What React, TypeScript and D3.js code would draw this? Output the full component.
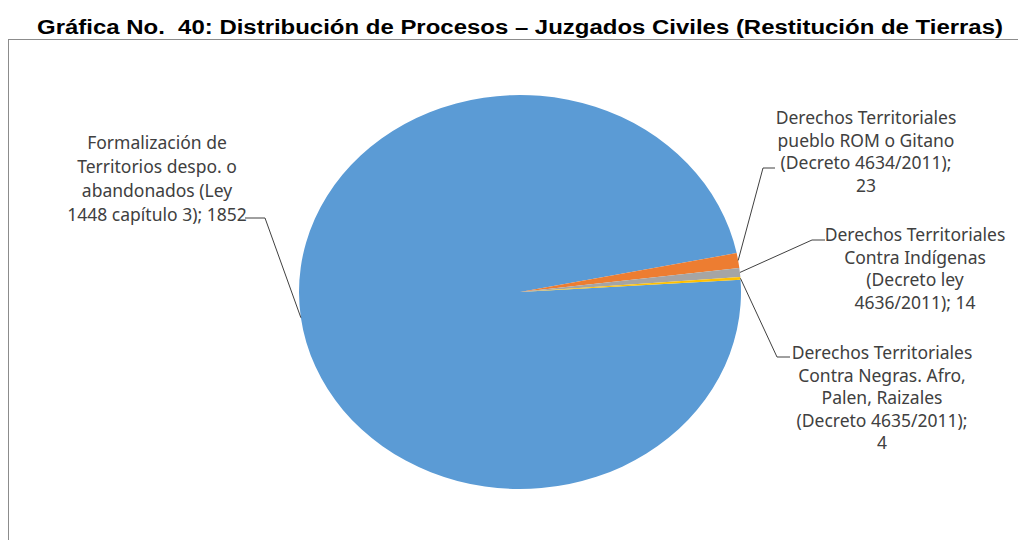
import React from "react";
import * as d3 from "d3";

const categories = [
  "Formalización de Territorios despo. o abandonados (Ley 1448 capítulo 3)",
  "Derechos Territoriales pueblo ROM o Gitano (Decreto 4634/2011)",
  "Derechos Territoriales Contra Indígenas (Decreto ley 4636/2011)",
  "Derechos Territoriales Contra Negras. Afro, Palen, Raizales (Decreto 4635/2011)",
];
const values = [1852, 23, 14, 4];
const colors = ["#5B9BD5", "#ED7D31", "#A5A5A5", "#FFC000"];
const labelLines = [
  ["Formalización de", "Territorios despo. o", "abandonados (Ley", "1448 capítulo 3); 1852"],
  ["Derechos Territoriales", "pueblo ROM o Gitano", "(Decreto 4634/2011);", "23"],
  ["Derechos Territoriales", "Contra Indígenas", "(Decreto ley", "4636/2011); 14"],
  ["Derechos Territoriales", "Contra Negras. Afro,", "Palen, Raizales", "(Decreto 4635/2011);", "4"],
];
const title = "Gráfica No.  40: Distribución de Procesos – Juzgados Civiles (Restitución de Tierras)";

// layout
const W = 1018, H = 540;
const cx = 520, cy = 292, rx = 221, ry = 197;
const startDeg = 86.4;
const labelLayout = [
  { x: 157, y: 149, lh: 24, elbow: [[245, 218], [265, 218]] },
  { x: 866, y: 124, lh: 22.7, elbow: [[775, 168], [763, 168]] },
  { x: 915, y: 241, lh: 22.5, elbow: [[825, 240], [812, 240]] },
  { x: 882, y: 359, lh: 22.5, elbow: [[790, 357], [777, 357]] },
];

export default function App() {
  const start = (startDeg * Math.PI) / 180;
  const pie = d3
    .pie<number>()
    .sort(null)
    .startAngle(start)
    .endAngle(start + 2 * Math.PI);
  const arcs = pie(values);
  const arc = d3.arc<d3.PieArcDatum<number>>().innerRadius(0).outerRadius(ry);
  const sx = rx / ry;

  return (
    <svg
      width={W}
      height={H}
      style={{ position: "absolute", left: 0, top: 0, display: "block", background: "#fff" }}
    >
      <text
        x={37}
        y={34}
        textLength={966}
        lengthAdjust="spacingAndGlyphs"
        style={{ fontFamily: "Liberation Sans, Arial, sans-serif", fontWeight: "bold", fontSize: 20, whiteSpace: "pre" }}
        fill="#000"
      >
        {title}
      </text>
      <line x1={8} y1={39.5} x2={W} y2={39.5} stroke="#8c8c8c" strokeWidth={1} />
      <line x1={8.5} y1={39.5} x2={8.5} y2={H} stroke="#8c8c8c" strokeWidth={1} />

      <g transform={`translate(${cx},${cy}) scale(${sx},1)`}>
        {arcs.map((a, i) => (
          <path key={categories[i]} d={arc(a) || ""} fill={colors[i]} />
        ))}
      </g>

      {arcs.map((a, i) => {
        const mid = (a.startAngle + a.endAngle) / 2;
        const px = cx + rx * Math.sin(mid);
        const py = cy - ry * Math.cos(mid);
        const L = labelLayout[i];
        const pts = [...L.elbow, [px, py]];
        return (
          <g key={"lbl" + i}>
            <polyline
              points={pts.map((p) => p.join(",")).join(" ")}
              fill="none"
              stroke="#404040"
              strokeWidth={1}
            />
            <text
              textAnchor="middle"
              style={{ fontFamily: "Noto Sans, sans-serif", fontSize: 17.5 }}
              fill="#404040"
            >
              {labelLines[i].map((t, j) => (
                <tspan key={j} x={L.x} y={L.y + j * L.lh}>
                  {t}
                </tspan>
              ))}
            </text>
          </g>
        );
      })}
    </svg>
  );
}
